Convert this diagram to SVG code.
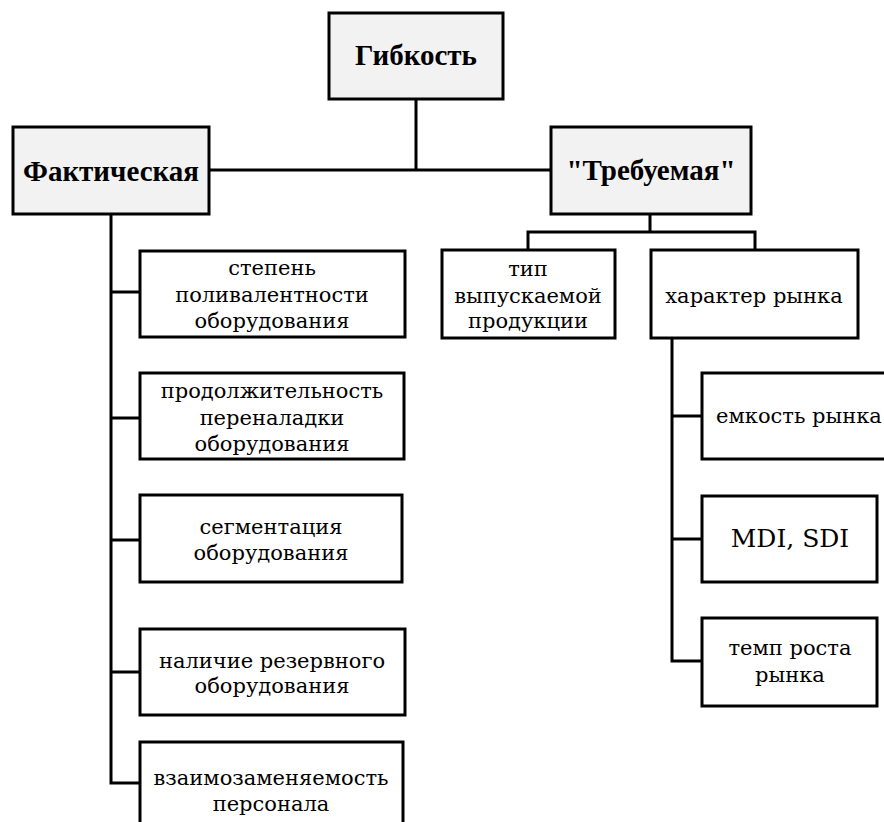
<svg xmlns="http://www.w3.org/2000/svg" width="884" height="822" viewBox="0 0 884 822">
  <style>
    .box { fill: #ffffff; stroke: #000000; stroke-width: 3; }
    .head { fill: #f2f2f2; stroke: #000000; stroke-width: 3; }
    text { fill: #000000; text-anchor: middle; }
    .t { font-family: 'DejaVu Serif', serif; font-size: 21px; }
    .b { font-family: 'Liberation Serif', serif; font-size: 29px; font-weight: bold; }
    .big { font-size: 25px; }
    .wire { fill: none; stroke: #000000; stroke-width: 3; stroke-linecap: square; }
  </style>

  <rect width="884" height="822" fill="#ffffff"/>

  <!-- connectors -->
  <g id="connectors">
    <path class="wire" d="M416,99 V170 M209,170 H551"/>
    <path class="wire" d="M111,214 V783 M111,292 H140 M111,418 H140 M111,540 H140 M111,672 H140 M111,783 H140"/>
    <path class="wire" d="M650,214 V232 M528,232 H755 M528,232 V250 M755,232 V250"/>
    <path class="wire" d="M672,338 V661 M672,416 H702 M672,539 H702 M672,661 H702"/>
  </g>

  <!-- top level -->
  <g id="n-gibkost">
    <rect class="head" x="329" y="13" width="174" height="86"/>
    <text class="b" x="416" y="65">Гибкость</text>
  </g>

  <g id="n-fakticheskaya">
    <rect class="head" x="13" y="127" width="196" height="87"/>
    <text class="b" x="111" y="181">Фактическая</text>
  </g>

  <g id="n-trebuemaya">
    <rect class="head" x="551" y="127" width="200" height="87"/>
    <text class="b" x="651" y="180">"Требуемая"</text>
  </g>

  <!-- left branch -->
  <g id="n-poly">
    <rect class="box" x="140" y="251" width="265" height="86"/>
    <text class="t" x="272" y="275">степень</text>
    <text class="t" x="272" y="302">поливалентности</text>
    <text class="t" x="272" y="328">оборудования</text>
  </g>

  <g id="n-pereladka">
    <rect class="box" x="140" y="373" width="264" height="86"/>
    <text class="t" x="272" y="398">продолжительность</text>
    <text class="t" x="272" y="425">переналадки</text>
    <text class="t" x="272" y="451">оборудования</text>
  </g>

  <g id="n-segment">
    <rect class="box" x="140" y="495" width="262" height="87"/>
    <text class="t" x="271" y="534">сегментация</text>
    <text class="t" x="271" y="560">оборудования</text>
  </g>

  <g id="n-reserve">
    <rect class="box" x="140" y="629" width="265" height="86"/>
    <text class="t" x="272" y="668">наличие резервного</text>
    <text class="t" x="272" y="693">оборудования</text>
  </g>

  <g id="n-personal">
    <rect class="box" x="140" y="742" width="263" height="90"/>
    <text class="t" x="271" y="785">взаимозаменяемость</text>
    <text class="t" x="271" y="811">персонала</text>
  </g>

  <!-- right branch -->
  <g id="n-tip">
    <rect class="box" x="442" y="250" width="173" height="88"/>
    <text class="t" x="528" y="276">тип</text>
    <text class="t" x="528" y="303">выпускаемой</text>
    <text class="t" x="528" y="328">продукции</text>
  </g>

  <g id="n-harakter">
    <rect class="box" x="651" y="250" width="207" height="88"/>
    <text class="t" x="754" y="303">характер рынка</text>
  </g>

  <g id="n-emkost">
    <rect class="box" x="702" y="373" width="200" height="86"/>
    <text class="t" x="799" y="423">емкость рынка</text>
  </g>

  <g id="n-mdi">
    <rect class="box" x="702" y="496" width="175" height="86"/>
    <text class="t big" x="790" y="547">MDI, SDI</text>
  </g>

  <g id="n-temp">
    <rect class="box" x="702" y="618" width="175" height="88"/>
    <text class="t" x="790" y="655">темп роста</text>
    <text class="t" x="790" y="682">рынка</text>
  </g>
</svg>
